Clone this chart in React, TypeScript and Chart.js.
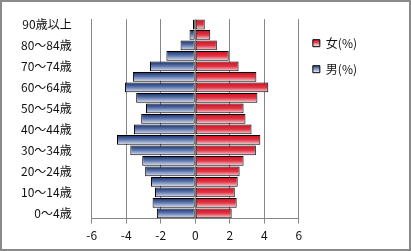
import React, { useEffect, useRef } from "react";
import { Chart, registerables } from "chart.js";

Chart.register(...registerables);

const ageLabels = [
  "0～4歳", "5～9歳", "10～14歳", "15～19歳", "20～24歳", "25～29歳",
  "30～34歳", "35～39歳", "40～44歳", "45～49歳", "50～54歳", "55～59歳",
  "60～64歳", "65～69歳", "70～74歳", "75～79歳", "80～84歳", "85～89歳", "90歳以上",
];

const maleValues = [
  -2.22, -2.47, -2.33, -2.56, -2.9, -3.07, -3.76, -4.53, -3.55, -3.13,
  -2.85, -3.42, -4.07, -3.61, -2.62, -1.67, -0.85, -0.33, -0.13,
];

const femaleValues = [
  2.11, 2.4, 2.29, 2.46, 2.57, 2.8, 3.51, 3.77, 3.26, 2.91,
  2.8, 3.6, 4.23, 3.54, 2.51, 1.94, 1.25, 0.87, 0.55,
];

const femaleName = "女(%)";
const maleName = "男(%)";

const FONT = "'Noto Sans CJK JP', 'Noto Sans', sans-serif";
const BAR_PCT = 0.94;

const femaleStops: [number, string][] = [
  [0, "#d40a1c"],
  [0.5, "#e03646"],
  [1, "#f6e0e5"],
];
const maleStops: [number, string][] = [
  [0, "#152d68"],
  [0.45, "#5a72aa"],
  [1, "#e2e8f4"],
];

function makeGrad(ctx: CanvasRenderingContext2D, y0: number, y1: number, stops: [number, string][]) {
  const g = ctx.createLinearGradient(0, y0, 0, y1);
  stops.forEach(([o, c]) => g.addColorStop(o, c));
  return g;
}

function barFill(stops: [number, string][]) {
  return (c: any) => {
    const chart = c.chart;
    const y = chart.scales && chart.scales.y;
    if (c.type !== "data" || !y || y.height === undefined) return stops[1][1];
    const center = y.getPixelForValue(c.dataIndex);
    const h = (y.height / ageLabels.length) * BAR_PCT;
    return makeGrad(chart.ctx, center - h / 2, center + h / 2, stops);
  };
}

export default function App() {
  const ref = useRef<HTMLCanvasElement>(null);

  useEffect(() => {
    const canvas = ref.current;
    if (!canvas) return;
    const chart = new Chart(canvas, {
      type: "bar",
      data: {
        labels: ageLabels,
        datasets: [
          {
            label: femaleName,
            data: femaleValues,
            backgroundColor: barFill(femaleStops),
            borderColor: "#000000",
            borderWidth: 1,
            borderSkipped: false,
            barPercentage: BAR_PCT,
            categoryPercentage: 1,
          },
          {
            label: maleName,
            data: maleValues,
            backgroundColor: barFill(maleStops),
            borderColor: "#000000",
            borderWidth: 1,
            borderSkipped: false,
            barPercentage: BAR_PCT,
            categoryPercentage: 1,
          },
        ],
      },
      options: {
        indexAxis: "y",
        responsive: false,
        animation: false,
        events: [],
        layout: { padding: { left: 9, right: 44, top: 15, bottom: 3 } },
        scales: {
          x: {
            stacked: true,
            min: -6,
            max: 6,
            ticks: {
              stepSize: 2,
              padding: 5,
              color: "#111",
              font: { family: FONT, size: 12 },
            },
            grid: {
              color: "#878787",
              lineWidth: 1,
              drawTicks: true,
              tickLength: 5,
              tickColor: "#878787",
            },
            border: { display: true, color: "#878787", width: 1 },
          },
          y: {
            stacked: true,
            reverse: true,
            grid: { display: false },
            border: { display: true, color: "#878787", width: 1 },
            ticks: {
              autoSkip: false,
              padding: 12,
              color: "#111",
              font: { family: FONT, size: 12 },
              callback: (v: any) => (Number(v) % 2 === 0 ? ageLabels[Number(v)] : ""),
            },
          },
        },
        plugins: {
          tooltip: { enabled: false },
          legend: {
            display: true,
            position: "right",
            align: "start",
            fullSize: false,
            title: { display: true, text: " ", font: { size: 4, lineHeight: 1 }, padding: 0 },
            labels: {
              boxWidth: 7,
              boxHeight: 7,
              padding: 14,
              color: "#111",
              font: { family: FONT, size: 12 },
              generateLabels: (ch: any) => {
                const ctx = ch.ctx;
                return [
                  {
                    text: femaleName,
                    fillStyle: makeGrad(ctx, 38, 46, femaleStops),
                    strokeStyle: "#000",
                    lineWidth: 1,
                    fontColor: "#111",
                    datasetIndex: 0,
                    hidden: false,
                  },
                  {
                    text: maleName,
                    fillStyle: makeGrad(ctx, 64, 72, maleStops),
                    strokeStyle: "#000",
                    lineWidth: 1,
                    fontColor: "#111",
                    datasetIndex: 1,
                    hidden: false,
                  },
                ];
              },
            },
          },
        },
      },
    });
    return () => chart.destroy();
  }, []);

  return (
    <div style={{ position: "fixed", left: 0, top: 0, width: 411, height: 251, background: "#fff" }}>
      <canvas ref={ref} width={411} height={251} style={{ display: "block" }} />
      <div
        style={{
          position: "absolute",
          left: 0,
          top: 0,
          width: 411,
          height: 251,
          boxSizing: "border-box",
          border: "2px solid #8a8a8a",
          pointerEvents: "none",
        }}
      />
    </div>
  );
}
